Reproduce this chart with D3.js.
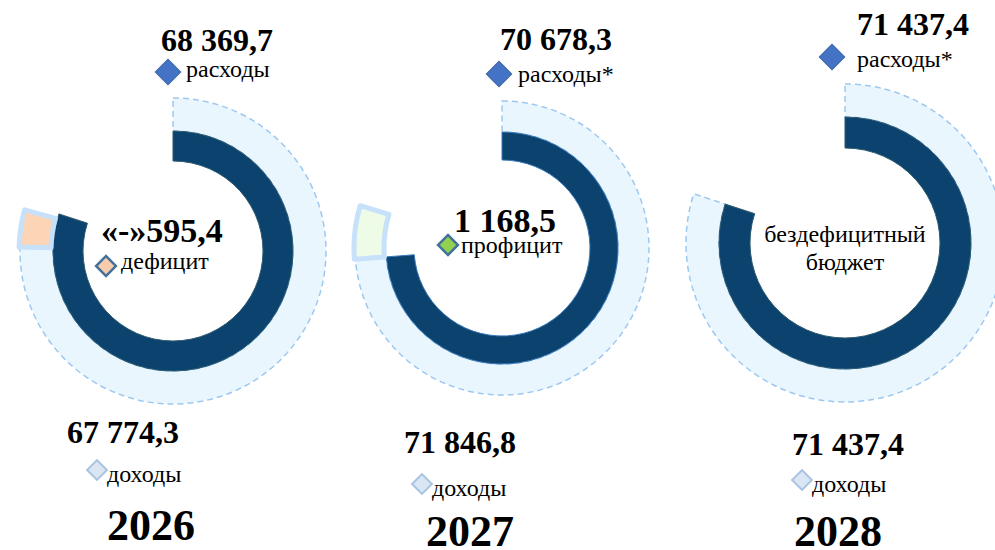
<html>
<head>
  <meta charset="utf-8">
  <title>Бюджет 2026-2028</title>
  <script src="https://cdn.jsdelivr.net/npm/d3@7"></script>
  <style>
    body { margin: 0; background: #fff; }
    svg text { font-family: "Liberation Serif", "Times New Roman", serif; fill: #000; }
  </style>
</head>
<body>
<div id="chart"></div>
<script>
// data
var years = ["2026", "2027", "2028"];
var income = [67774.3, 71846.8, 71437.4];
var expenses = [68369.7, 70678.3, 71437.4];
var expenseNames = ["расходы", "расходы*", "расходы*"];
var incomeName = "доходы";
var balanceNames = ["дефицит", "профицит", "бездефицитный бюджет"];

// layout (positions only)
var layout = [
  { cx: 173, cy: 251, r0: 90, r1: 120, r2: 153, sweep: 0.8, blockDeg: 14,
    top: [161, 51, 168, 72, 186, 77], mid: [101, 242, 106, 266, 121, 269],
    bot: [67, 443, 97, 470, 107, 482], year: [107, 540] },
  { cx: 502, cy: 248, r0: 88, r1: 116, r2: 147, sweep: 0.75, blockDeg: 21,
    top: [500, 50, 499, 74, 518, 82], mid: [454, 232, 448, 245, 461, 253],
    bot: [404, 453, 422, 484, 432, 496], year: [426, 546] },
  { cx: 845, cy: 243, r0: 95, r1: 126, r2: 159, sweep: 0.8, blockDeg: 0,
    top: [857, 35, 832, 57, 857, 67], mid: [845, 242, 0, 0, 0, 270],
    bot: [792, 455, 802, 480, 812, 492], year: [794, 546] }
];

var ru = d3.formatLocale({ decimal: ",", thousands: "\u00a0", grouping: [3], currency: ["", ""] });
var fmt = ru.format(",.1f");

var W = 995, H = 550;
var svg = d3.select("#chart").append("svg").attr("width", W).attr("height", H);

var blockFill = { deficit: "#fbd5b5", surplus: "#eefbe6" };

function diamond(g, x, y, side, fill, stroke, sw) {
  g.append("path")
    .attr("d", d3.symbol().type(d3.symbolSquare).size(side * side)())
    .attr("transform", "translate(" + x + "," + y + ") rotate(45)")
    .attr("fill", fill)
    .attr("stroke", stroke)
    .attr("stroke-width", sw);
}

years.forEach(function(yr, i) {
  var L = layout[i];
  var inc = income[i], exp = expenses[i];
  var bal = +(inc - exp).toFixed(1);
  var ang = d3.scaleLinear()
    .domain([0, Math.max(inc, exp)])
    .range([0, L.sweep * 2 * Math.PI]);
  var w = L.blockDeg * Math.PI / 180;

  var g = svg.append("g").attr("transform", "translate(" + L.cx + "," + L.cy + ")");

  // income ring and balance block
  var lightEnd, blockStart, blockEnd;
  if (bal < 0) {
    lightEnd = ang(inc) - w; blockStart = lightEnd; blockEnd = ang(inc);
  } else if (bal > 0) {
    lightEnd = ang(exp); blockStart = lightEnd; blockEnd = lightEnd + w;
  } else {
    lightEnd = ang(inc);
  }

  var outerArc = d3.arc().innerRadius(L.r1).outerRadius(L.r2);
  g.append("path")
    .attr("d", outerArc({ startAngle: 0, endAngle: lightEnd }))
    .attr("fill", "#eaf6fe")
    .attr("stroke", "#9ec8f0")
    .attr("stroke-width", 1.5)
    .attr("stroke-dasharray", "6,4");

  // expenses ring
  var innerArc = d3.arc().innerRadius(L.r0).outerRadius(L.r1);
  g.append("path")
    .attr("d", innerArc({ startAngle: 0, endAngle: ang(exp) }))
    .attr("fill", "#0b426e")
    .attr("stroke", bal > 0 ? "#3a78b8" : "#2c5a6e")
    .attr("stroke-width", 1);

  if (bal !== 0) {
    g.append("path")
      .attr("d", d3.arc().innerRadius(L.r1 + 2).outerRadius(L.r2 + 1)({ startAngle: blockStart, endAngle: blockEnd }))
      .attr("fill", bal < 0 ? blockFill.deficit : blockFill.surplus)
      .attr("stroke", "#c6e1f9")
      .attr("stroke-width", 5)
      .attr("stroke-linejoin", "round");
  }

  // top label: expenses
  svg.append("text").attr("x", L.top[0]).attr("y", L.top[1])
    .attr("font-size", 32).attr("font-weight", "bold").text(fmt(exp));
  diamond(svg, L.top[2], L.top[3], 18, "#4472c4", "#3f69a8", 1);
  svg.append("text").attr("x", L.top[4]).attr("y", L.top[5])
    .attr("font-size", 24).text(expenseNames[i]);

  // centre label: balance
  if (bal !== 0) {
    svg.append("text").attr("x", L.mid[0]).attr("y", L.mid[1])
      .attr("font-size", 34).attr("font-weight", "bold")
      .text(bal < 0 ? "«-»" + fmt(-bal) : fmt(bal));
    diamond(svg, L.mid[2], L.mid[3], 14, bal < 0 ? "#f8cbad" : "#92d050", "#41719c", 2.5);
    svg.append("text").attr("x", L.mid[4]).attr("y", L.mid[5])
      .attr("font-size", 24).text(balanceNames[i]);
  } else {
    var words = balanceNames[i].split(" ");
    svg.append("text").attr("x", L.mid[0]).attr("y", L.mid[1])
      .attr("font-size", 24).attr("text-anchor", "middle").text(words[0]);
    svg.append("text").attr("x", L.mid[0]).attr("y", L.mid[5])
      .attr("font-size", 24).attr("text-anchor", "middle").text(words[1]);
  }

  // bottom label: income
  svg.append("text").attr("x", L.bot[0]).attr("y", L.bot[1])
    .attr("font-size", 32).attr("font-weight", "bold").text(fmt(inc));
  diamond(svg, L.bot[2], L.bot[3], 14, "#dae6f3", "#a9c4e0", 2);
  svg.append("text").attr("x", L.bot[4]).attr("y", L.bot[5])
    .attr("font-size", 24).text(incomeName);

  svg.append("text").attr("x", L.year[0]).attr("y", L.year[1])
    .attr("font-size", 44).attr("font-weight", "bold").text(yr);
});
</script>
</body>
</html>
